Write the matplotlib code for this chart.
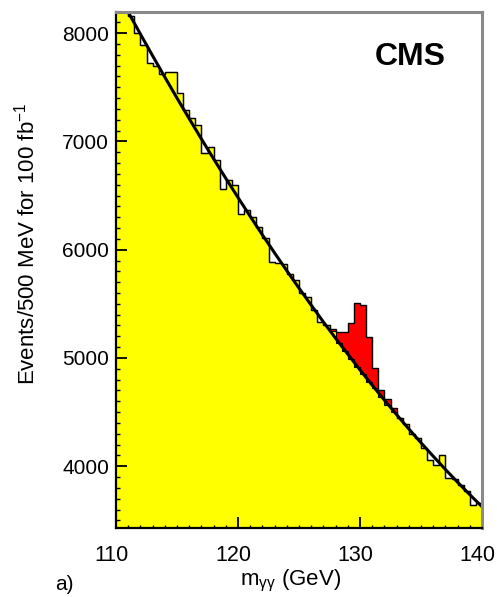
import numpy as np
import matplotlib
matplotlib.use("Agg")
import matplotlib.pyplot as plt
from matplotlib.ticker import MultipleLocator, FixedLocator
from matplotlib.transforms import ScaledTranslation

plt.rcParams['font.family'] = ['Liberation Sans', 'DejaVu Sans']
plt.rcParams['mathtext.fontset'] = 'custom'
plt.rcParams['mathtext.rm'] = 'Liberation Sans'
plt.rcParams['mathtext.it'] = 'Liberation Sans:italic'

# diphoton mass histogram, 500 MeV bins from 110 to 140 GeV
bin_lo, bin_hi, bin_w = 110.0, 140.0, 0.5
background = [
    8400, 8300, 8160, 8000, 7890, 7720, 7700, 7620, 7640, 7640,
    7450, 7290, 7215, 7150, 6890, 6950, 6830, 6560, 6640, 6600,
    6330, 6370, 6300, 6210, 6110, 5890, 5880, 5870, 5780, 5720,
    5600, 5560, 5440, 5330, 5300, 5250, 5140, 5060, 4990, 4920,
    4850, 4780, 4720, 4640, 4570, 4500, 4450, 4390, 4300, 4260,
    4170, 4060, 4010, 4100, 3890, 3880, 3830, 3770, 3640, 3660,
]
# Higgs signal stacked on top of the background, starting at 127.5 GeV
signal_start = 127.5
signal = [20, 100, 180, 330, 585, 640, 410, 190, 60, 50, 40]

# smooth background fit, sampled every 1 GeV
fit_mass = list(range(110, 141))
fit_events = [
    8401, 8194, 7991, 7791, 7594, 7400, 7210, 7023, 6839, 6659,
    6482, 6308, 6137, 5970, 5806, 5645, 5488, 5333, 5182, 5035,
    4890, 4749, 4611, 4477, 4345, 4217, 4093, 3971, 3853, 3738,
    3627,
]

edges = np.arange(bin_lo, bin_hi + bin_w / 2, bin_w)
bkg = np.array(background, dtype=float)
sig = np.zeros_like(bkg)
i0 = int(round((signal_start - bin_lo) / bin_w))
sig[i0:i0 + len(signal)] = signal
total = bkg + sig

fig = plt.figure(figsize=(4.97, 5.97), dpi=100)
ax = fig.add_axes([116 / 497, 1 - 528 / 597, 366 / 497, 516 / 597])

ax.stairs(bkg, edges, baseline=0, fill=True, color='#ffff00', zorder=1)
ax.stairs(total, edges, baseline=bkg, fill=True, color='#ff0000', zorder=2)
ax.stairs(bkg, edges, baseline=None, color='black', lw=0.8, zorder=3)
ax.stairs(total, edges, baseline=None, color='black', lw=1.0, zorder=3)
ax.plot(fit_mass, fit_events, color='black', lw=2.2, zorder=4,
        solid_capstyle='round')

ax.set_xlim(110, 140)
ax.set_ylim(3430, 8195)

ax.xaxis.set_major_locator(FixedLocator([110, 120, 130, 140]))
ax.xaxis.set_minor_locator(MultipleLocator(1))
ax.yaxis.set_major_locator(FixedLocator([4000, 5000, 6000, 7000, 8000]))
ax.yaxis.set_minor_locator(MultipleLocator(100))

ax.tick_params(axis='both', which='both', direction='in', top=False,
               right=False, color='black')
ax.tick_params(axis='x', which='major', length=8, width=1.3,
               labelsize=15.5, pad=12)
ax.tick_params(axis='x', which='minor', length=2.5, width=1.0)
ax.tick_params(axis='y', which='major', length=8, width=1.3,
               labelsize=15, pad=5)
ax.tick_params(axis='y', which='minor', length=3, width=1.0)

# mass labels sit slightly left of their ticks
shift = ScaledTranslation(-5 / 100, 0, fig.dpi_scale_trans)
for lab in ax.get_xticklabels():
    lab.set_transform(lab.get_transform() + shift)

# mid-decade ticks on the mass axis
sec = ax.secondary_xaxis('bottom')
sec.set_xticks([115, 125, 135])
sec.tick_params(direction='in', length=5, width=1.2, labelbottom=False)
sec.spines['bottom'].set_visible(False)

for side in ('left', 'bottom'):
    ax.spines[side].set_color('black')
    ax.spines[side].set_linewidth(1.6)
for side in ('top', 'right'):
    ax.spines[side].set_color('#8a8a8a')
    ax.spines[side].set_linewidth(2.2)
for s in ax.spines.values():
    s.set_zorder(6)

ax.set_xlabel(r'$\mathregular{m_{\gamma\gamma}}$ (GeV)', fontsize=16,
              labelpad=4)
ax.xaxis.set_label_coords((291 - 116) / 366, -0.077)

fig.text(27 / 497, 1 - 244 / 597, r'Events/500 MeV for 100 fb$^{-1}$',
         rotation=90, ha='center', va='center', fontsize=16)

ax.text(0.805, 0.912, 'CMS', transform=ax.transAxes, ha='center',
        va='center', fontsize=23, fontweight='bold')

fig.text(55 / 497, 1 - 585 / 597, 'a)', ha='left', va='center',
         fontsize=15)

fig.savefig('out.png', dpi=100)
